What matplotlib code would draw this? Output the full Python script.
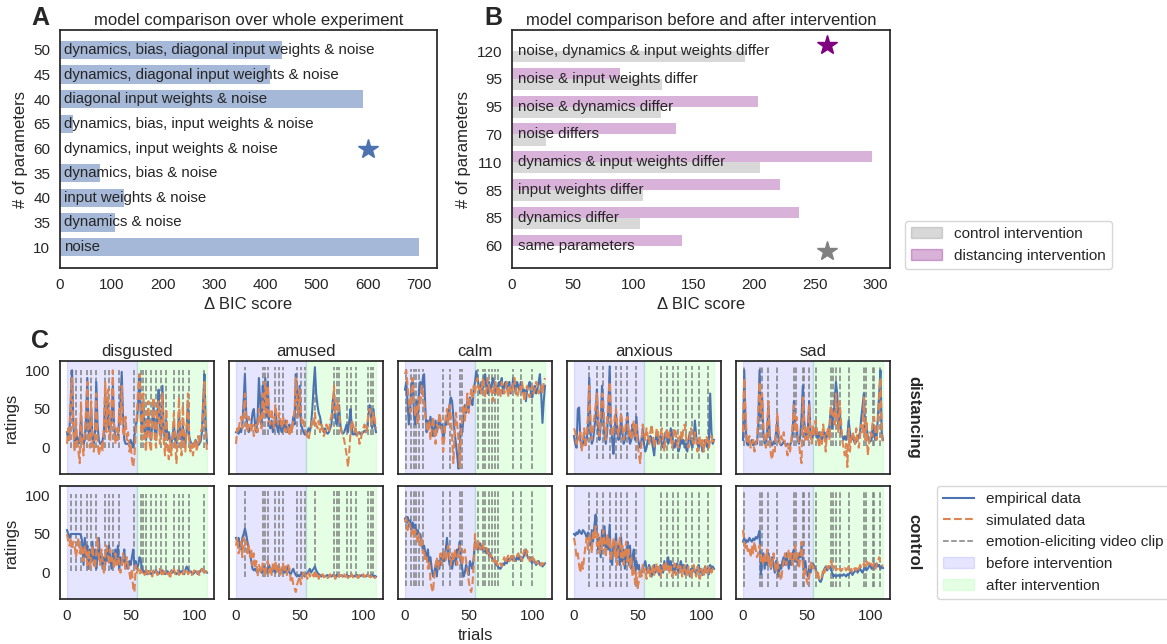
import numpy as np
import matplotlib.pyplot as plt
from matplotlib.lines import Line2D
from matplotlib.patches import Patch

# ---------------- panel A data ----------------
models_a = ["dynamics, bias, diagonal input weights & noise",
            "dynamics, diagonal input weights & noise",
            "diagonal input weights & noise",
            "dynamics, bias, input weights & noise",
            "dynamics, input weights & noise",
            "dynamics, bias & noise",
            "input weights & noise",
            "dynamics & noise",
            "noise"]
n_params_a = [50, 45, 40, 65, 60, 35, 40, 35, 10]
dbic_a = [432, 410, 590, 25, 0, 78, 125, 108, 700]
star_x_a = 600

# ---------------- panel B data ----------------
models_b = ["noise, dynamics & input weights differ",
            "noise & input weights differ",
            "noise & dynamics differ",
            "noise differs",
            "dynamics & input weights differ",
            "input weights differ",
            "dynamics differ",
            "same parameters"]
n_params_b = [120, 95, 95, 70, 110, 85, 85, 60]
dbic_control = [192, 124, 123, 28, 205, 108, 106, 0]
dbic_distancing = [0, 89, 203, 135, 297, 221, 237, 140]
star_x_b = 260

# ---------------- panel C data ----------------
emotions = ["disgusted", "amused", "calm", "anxious", "sad"]
groups = ["distancing", "control"]
before_span = (0, 55)
after_span = (55, 110)

clips_disgusted = [3, 7, 11, 16, 19, 23, 30, 33, 36, 41, 53, 58, 60, 62, 66, 70, 74, 78, 84, 88, 91, 96, 108]
clips_amused = [7, 21, 23, 25, 31, 34, 37, 48, 51, 54, 62, 77, 79, 81, 87, 90, 94, 104, 106, 108]
clips_calm = [1, 5, 7, 9, 11, 14, 30, 35, 43, 45, 57, 61, 63, 66, 68, 71, 73, 85, 91, 100]
clips_anxious = [12, 18, 23, 28, 33, 37, 42, 49, 68, 73, 78, 82, 88, 93, 98, 105]
clips_sad = [1, 13, 15, 20, 27, 40, 42, 47, 48, 52, 57, 69, 71, 73, 76, 83, 95, 97, 102, 103, 108]

clip_range_distancing = [(0, 100), (16, 104), (-27, 102), (-14, 105), (2, 105)]
clip_range_control = [(2, 102), (-6, 105), (-17, 105), (-19, 105), (-19, 106)]

# distancing group
disgusted_dist_emp = [20, 10, 25, 60, 100, 30, 5, 10, 15, 5,
                      8, 40, 15, 5, 10, 40, 90, 20, 10, 50,
                      15, 5, 20, 85, 30, 10, 5, 5, 10, 20,
                      70, 30, 60, 25, 20, 40, 80, 30, 15, 10,
                      15, 35, 60, 98, 40, 10, 5, 5, 5, 5,
                      10, 5, 0, 15, 30, 35, 60, 95, 40, 20,
                      60, 25, 10, 20, 45, 15, 10, 30, 55, 20,
                      10, 40, 75, 20, 15, 80, 20, 10, 35, 10,
                      20, 10, 5, 15, 30, 10, 5, 20, 45, 15,
                      10, 30, 10, 5, 20, 60, 15, 8, 5, 5,
                      5, 10, 5, 3, 5, 8, 20, 60, 95, 30, 5]
disgusted_dist_sim = [5, 25, 10, 70, 90, 20, -5, 40, 10, -5,
                      -20, 60, 5, -10, 20, 50, 85, 10, 0, 60,
                      5, -5, 15, 70, 10, -10, 0, 5, -5, 30,
                      85, 20, 75, 40, 10, 60, 100, 20, 5, 25,
                      10, 50, 30, 80, 20, 15, 40, 10, 20, -5,
                      5, -15, -25, -10, 20, 45, 80, 95, 30, 10,
                      70, 15, -5, 30, 60, 5, -5, 40, 65, 10,
                      0, 55, 60, 5, 25, 70, 10, -10, 50, 0,
                      -15, 10, -10, 20, 45, 5, -20, 15, 65, 10,
                      -10, 55, 15, -5, 30, 70, 10, -5, 5, -10,
                      5, 10, -5, 15, 5, 20, 25, 50, 85, 15, -5]
amused_dist_emp = [20, 22, 18, 25, 20, 30, 60, 95, 45, 25,
                   20, 25, 30, 45, 50, 30, 20, 40, 90, 60,
                   30, 80, 50, 90, 40, 85, 30, 25, 35, 20,
                   25, 50, 30, 20, 35, 25, 20, 30, 25, 35,
                   20, 25, 30, 20, 25, 40, 30, 95, 70, 40,
                   80, 30, 25, 20, 17, 17, 20, 25, 20, 30,
                   50, 80, 104, 70, 55, 45, 40, 30, 25, 20,
                   25, 20, 18, 20, 25, 30, 60, 70, 40, 30,
                   35, 55, 30, 20, 18, 20, 25, 30, 20, 35,
                   50, 25, 17, 18, 17, 17, 18, 20, 17, 18,
                   20, 22, 20, 25, 40, 55, 45, 25, 50, 30, 20]
amused_dist_sim = [5, 25, 20, 35, 40, 25, 45, 70, 30, 20,
                   40, 35, 20, 30, 15, 25, 30, 20, 50, 35,
                   25, 70, 40, 85, 45, 80, 35, 30, 50, 35,
                   25, 55, 40, 30, 45, 35, 25, 40, 30, 20,
                   35, 25, 15, 30, 20, 35, 50, 90, 60, 40,
                   75, 45, 30, 35, 25, 20, 15, 10, 20, 25,
                   35, 30, 45, 30, 25, 35, 20, 30, 25, 15,
                   20, 30, 25, 20, 35, 40, 55, 80, 45, 50,
                   60, 45, 30, 20, 15, 10, 0, -10, -25, -5,
                   20, 35, 30, 20, 25, 15, 20, 5, 10, 20,
                   25, 30, 20, 25, 45, 50, 40, 30, 45, 35, 25]
calm_dist_emp = [75, 85, 60, 30, 50, 80, 85, 45, 30, 60,
                 40, 75, 85, 70, 90, 95, 50, 20, 35, 25,
                 40, 30, 15, 25, 35, 20, 30, 40, 25, 30,
                 10, 20, 35, 30, 45, 55, 65, 60, 40, 20,
                 5, -10, -27, 0, 30, 20, 40, 55, 45, 60,
                 50, 65, 60, 55, 75, 85, 99, 90, 80, 70,
                 85, 75, 90, 95, 80, 70, 85, 75, 80, 90,
                 85, 70, 80, 75, 85, 80, 90, 70, 80, 85,
                 75, 80, 85, 70, 75, 90, 80, 70, 85, 80,
                 75, 85, 80, 70, 75, 60, 75, 80, 85, 70,
                 65, 75, 80, 70, 75, 85, 95, 70, 32, 60, 80]
calm_dist_sim = [95, 100, 80, 60, 45, 70, 90, 60, 40, 55,
                 30, 65, 55, 80, 70, 60, 40, 30, 20, 35,
                 10, 25, 40, 20, 5, 30, 25, 45, 35, 20,
                 -5, 15, 40, 50, 30, 55, 40, 15, -20, 20,
                 45, 30, 10, -25, 15, 40, 55, 35, 50, 70,
                 45, 60, 75, 65, 80, 70, 85, 90, 75, 80,
                 70, 90, 80, 65, 75, 90, 80, 70, 75, 60,
                 80, 85, 70, 80, 75, 65, 85, 80, 70, 75,
                 85, 65, 80, 75, 70, 80, 90, 75, 65, 70,
                 80, 75, 85, 70, 60, 75, 80, 70, 65, 75,
                 80, 70, 75, 85, 80, 70, 75, 80, 70, 85, 90]
anxious_dist_emp = [15, 5, 0, 50, 52, 10, 0, 5, 15, 5,
                    10, 30, 90, 20, 5, 10, 25, 40, 75, 20,
                    10, 30, 80, 40, 15, 5, 20, 50, 105, 30,
                    10, -8, 25, 45, 20, 10, 15, 40, 20, 5,
                    10, 25, 45, 15, 5, 10, 30, 20, 10, 40,
                    15, 5, 0, 10, 25, 5, -5, 0, 10, 5,
                    15, 10, 0, -10, 10, 20, 5, 10, 15, 5,
                    0, 10, 20, 15, 5, 10, 25, 15, 5, 0,
                    10, 5, -5, 0, 15, 5, 10, 0, 5, -5,
                    10, 20, 5, 0, 10, 35, 15, 5, 0, 10,
                    5, -5, 0, 10, 5, 0, 10, 70, 20, 5, 10]
anxious_dist_sim = [25, 20, 5, 15, 10, 20, -5, 10, 25, 0,
                    20, 40, 80, 30, 10, 25, 40, 55, 70, 35,
                    15, 45, 70, 60, 25, 10, 35, 60, 85, 40,
                    15, 20, 40, 50, 25, 15, 30, 45, 30, 10,
                    20, 35, 40, 15, 25, 10, 20, 35, 15, 30,
                    5, -10, -20, 5, 30, 20, 10, 25, 15, 5,
                    20, 30, 15, 0, 10, 25, 20, 5, 15, 25,
                    10, -5, 15, 25, 10, 20, 15, 0, 10, 25,
                    20, 5, 0, 15, 20, 10, 25, 30, 15, 5,
                    0, 15, 25, 10, 5, 20, 10, -5, 5, 15,
                    0, 10, -5, 5, 15, 10, 0, 10, 15, 5, 10]
sad_dist_emp = [10, 100, 30, 5, 3, 8, 5, 10, 3, 5,
                8, 5, 30, 100, 40, 65, 20, 5, 8, 20,
                55, 15, 5, 3, 8, 5, 20, 35, 10, 5,
                3, 5, 8, 5, 3, 5, 5, 3, 8, 20,
                60, 25, 30, 10, 5, 15, 40, 80, 35, 20,
                15, 25, 60, 20, 10, 15, 20, 25, 15, 10,
                20, 15, 10, 15, 20, 10, 15, 20, 30, 50,
                25, 35, 60, 85, 70, 30, 50, 20, 15, 10,
                15, 10, 15, 35, 20, 10, 15, 10, 5, 8,
                10, 15, 20, 40, 55, 70, 25, 30, 15, 10,
                8, 10, 30, 25, 10, 15, 40, 70, 100, 20, 10]
sad_dist_sim = [20, 90, 45, 10, 5, 15, 0, 5, 10, -5,
                5, 10, 50, 85, 45, 70, 25, 10, 0, 30,
                60, 10, -10, -15, 0, -5, 25, 45, 20, 5,
                15, 10, 20, 5, 0, -10, 5, -5, 10, 30,
                55, 20, 40, 15, 5, -10, -20, 65, 40, 10,
                25, 10, 55, 20, 5, 30, 15, 35, 25, 10,
                0, 20, 5, 30, 15, -5, 20, 25, 10, 55,
                40, 45, 30, 70, 40, 20, 60, 35, 10, 0,
                -10, 5, -25, 25, -5, 10, 20, 15, 5, 25,
                10, 0, 15, 30, 20, 65, 10, 35, -10, 5,
                20, 15, 35, 40, 20, 10, 30, 65, 90, 15, 5]

# control group
disgusted_ctrl_emp = [55, 50, 45, 50, 50, 50, 50, 50, 50, 50,
                      50, 48, 40, 10, 45, 20, 35, 5, 30, 15,
                      40, 10, 30, 5, 20, 45, 15, 25, 5, 20,
                      10, 30, 15, 35, 20, 5, 25, 10, 30, 15,
                      35, 5, 20, 10, 15, 30, 5, 10, 5, 15,
                      10, 20, 30, 10, 15, 5, 10, 20, 15, 5,
                      0, 2, 0, -2, 2, 0, -2, 0, 2, 0,
                      3, 0, -2, 2, 0, 3, 0, -2, 0, 2,
                      0, -2, 3, 0, 2, 0, -2, 0, 3, 0,
                      2, 0, -2, 3, 8, 5, 0, 2, 0, -2,
                      0, 2, 0, -2, 0, 3, 5, 2, 0, 2, 0]
disgusted_ctrl_sim = [50, 40, 35, 45, 30, 40, 35, 20, 30, 45,
                      25, 35, 30, 15, 35, 25, 10, 30, 5, 20,
                      35, 15, 5, 25, 45, 20, 10, 30, 15, 0,
                      20, 35, 25, 10, 30, 15, 20, 5, 25, 10,
                      20, 15, 0, 10, 25, 15, 5, 20, 10, 0,
                      -10, 5, -20, -25, 10, 0, 5, -2, 3, 0,
                      2, -3, 0, 5, -2, 2, 0, -5, 3, 0,
                      2, -3, 0, 5, 0, -5, 2, 0, 3, -2,
                      0, -8, 2, 0, 5, -2, 0, 3, -3, 0,
                      2, -2, 0, 3, 5, -2, 0, 2, -3, 0,
                      3, -2, 0, 2, -3, 0, 5, 3, -2, 2, 0]
amused_ctrl_emp = [45, 40, 45, 35, 30, 45, 50, 57, 50, 40,
                   30, 25, 15, 5, 3, 5, 2, 0, 3, 5,
                   0, 2, 8, 3, 0, 5, 10, 3, 0, 2,
                   5, 0, 3, 8, 2, 0, 3, 5, 0, 2,
                   8, 3, 0, -2, 2, 5, 0, -3, -5, -3,
                   -5, -2, 0, -3, -5, -3, 0, 2, 5, 0,
                   3, 5, 8, 3, 0, -2, -3, -5, -3, -4,
                   -5, -4, -3, -5, -4, -5, -3, -4, -5, -3,
                   -4, -5, -4, -3, -5, -4, -5, -3, -4, -5,
                   -4, -3, -5, -4, -5, -3, -4, -5, -4, -3,
                   -5, -4, -5, -3, -4, -5, -4, -3, -5, -4, -5]
amused_ctrl_sim = [35, 45, 25, 30, 40, 20, 45, 35, 40, 25,
                   35, 20, 30, 10, 25, 5, 15, -5, 10, 5,
                   0, 12, 5, -5, 10, 15, 0, 8, -3, 12,
                   5, 15, 0, 10, 5, -5, 10, 12, 0, 8,
                   -3, 10, 5, -10, -5, -15, -20, -25, -15, -10,
                   -5, -15, -5, 0, -5, -3, -8, 0, -5, -2,
                   0, -5, 3, -5, 0, -8, -3, -5, -2, -6,
                   -4, -3, -7, -5, -2, -6, -4, -3, -8, -5,
                   -2, -5, -4, -3, -6, -2, -5, -4, -7, -3,
                   -5, -2, -6, -4, -3, -5, -7, -3, -4, -6,
                   -2, -5, -4, -7, -3, -5, -6, -4, -3, -7, -5]
calm_ctrl_emp = [70, 65, 72, 60, 68, 55, 65, 58, 62, 50,
                 55, 45, 50, 40, 30, 35, 25, 20, 30, 10,
                 20, 5, -5, 0, 10, -5, 15, 5, 20, 10,
                 25, 15, 30, 45, 25, 10, 20, 5, 15, 25,
                 10, 30, 25, 40, 15, 5, -5, 0, 10, 5,
                 -3, 15, 10, 5, 20, 40, 35, 30, 35, 38,
                 30, 35, 28, 32, 25, 30, 22, 25, 20, 18,
                 15, 12, 10, 8, 6, 5, 8, 12, 10, 15,
                 12, 18, 15, 20, 17, 22, 18, 15, 20, 17,
                 22, 15, 18, 20, 25, 30, 22, 18, 20, 15,
                 12, 18, 14, 10, 12, 15, 10, 12, 8, 10, 12]
calm_ctrl_sim = [65, 70, 55, 65, 60, 50, 58, 45, 55, 48,
                 40, 50, 35, 45, 25, 30, 15, 20, 5, 15,
                 -10, -20, -25, -5, 10, 20, 5, 15, 25, 10,
                 20, 30, 15, 25, 35, 20, 10, 25, 15, 30,
                 20, 10, 25, 35, 20, 10, 25, 30, 15, 5,
                 -10, -20, -25, -15, 10, 50, 30, 35, 40, 30,
                 33, 38, 30, 28, 32, 25, 28, 20, 22, 15,
                 18, 10, 15, 8, 10, 12, 8, 15, 20, 12,
                 18, 22, 15, 18, 25, 20, 15, 18, 22, 25,
                 18, 20, 15, 25, 30, 22, 28, 20, 15, 18,
                 22, 15, 18, 12, 15, 10, 8, 12, 10, 15, 12]
anxious_ctrl_emp = [50, 48, 52, 50, 55, 52, 50, 55, 53, 50,
                    45, 52, 48, 35, 55, 40, 60, 75, 50, 30,
                    45, 20, 55, 35, 60, 25, 45, 30, 62, 15,
                    10, 40, 25, 50, 20, 35, 10, 45, 15, 30,
                    5, 25, 40, 10, 35, 5, 20, 30, 0, 15,
                    5, 10, -5, 0, 5, 10, 15, 5, 0, 10,
                    5, -5, 5, 10, 0, 8, 3, -3, 10, 5,
                    0, 15, 5, 10, 20, 8, 15, 3, 10, 0,
                    5, 12, 0, 8, 15, 5, 10, -2, 5, 10,
                    3, -5, 5, 0, 8, 2, -3, 5, 10, 0,
                    5, -3, 2, 8, 0, 5, -2, 10, 5, 8, 5]
anxious_ctrl_sim = [45, 35, 20, 25, 10, 0, 15, 5, 20, 35,
                    45, 30, 50, 40, 25, 55, 45, 60, 35, 50,
                    25, 45, 30, 55, 40, 20, 50, 35, 45, 15,
                    30, 45, 20, 40, 10, 30, 45, 20, 35, 10,
                    25, 40, 15, 30, 5, 20, -5, 10, -15, 0,
                    -20, -10, 5, -5, 10, 0, 5, -8, 3, 8,
                    -5, 0, 10, -3, 5, 12, 0, 8, -5, 5,
                    10, 0, 15, 5, 10, 0, 8, -5, 5, 12,
                    -3, 5, 10, 0, 8, -5, 3, 10, 0, -5,
                    8, 2, -8, 5, 10, 0, -5, 8, 3, -8,
                    5, 0, -5, 10, 3, -3, 5, 8, 0, 5, 2]
sad_ctrl_emp = [40, 45, 38, 42, 40, 45, 42, 40, 44, 42,
                46, 44, 48, 54, -2, 15, 25, 5, 20, 10,
                25, 15, 5, 20, 10, 0, 15, 5, -5, 10,
                5, 15, 20, 10, 25, 15, 5, 20, 10, 25,
                30, 15, 20, 10, 25, 20, 35, 15, 5, 15,
                0, -5, 5, 0, 10, 12, 8, 5, 0, -5,
                -10, -12, -8, 0, 5, 8, 3, 5, 8, 5,
                0, -5, -3, -5, -4, -3, -5, -3, -4, -2,
                -3, -5, -2, -3, 0, 2, -3, 0, 2, 5,
                0, 3, 5, 2, 0, 5, 8, 3, 5, 8,
                10, 5, 8, 6, 10, 12, 8, 10, 5, 8, 6]
sad_ctrl_sim = [55, 40, 30, 35, 25, 30, 20, 35, 25, 40,
                30, 20, 25, 35, 15, 20, 10, 25, 15, 30,
                10, 20, 5, 15, 25, 10, 0, 15, 5, -5,
                -10, 5, 15, 25, 10, 20, 30, 15, 25, 10,
                20, 35, 15, 25, 5, 20, 40, 10, -5, 5,
                -10, -15, -5, 10, 15, 5, 8, 3, -5, 0,
                -10, -8, -5, 5, 0, 10, 8, 5, 12, 15,
                10, 5, 8, 3, 5, 8, 5, 2, 5, 3,
                6, 3, 5, 8, 2, 5, 0, 4, 6, 3,
                8, 5, 10, 6, 8, 12, 8, 15, 10, 12,
                15, 10, 8, 12, 5, 10, 15, 20, 12, 10, 8]

clips = [clips_disgusted, clips_amused, clips_calm, clips_anxious, clips_sad]
empirical = {"distancing": [disgusted_dist_emp, amused_dist_emp, calm_dist_emp,
                            anxious_dist_emp, sad_dist_emp],
             "control": [disgusted_ctrl_emp, amused_ctrl_emp, calm_ctrl_emp,
                         anxious_ctrl_emp, sad_ctrl_emp]}
simulated = {"distancing": [disgusted_dist_sim, amused_dist_sim, calm_dist_sim,
                            anxious_dist_sim, sad_dist_sim],
             "control": [disgusted_ctrl_sim, amused_ctrl_sim, calm_ctrl_sim,
                         anxious_ctrl_sim, sad_ctrl_sim]}
clip_ranges = {"distancing": clip_range_distancing, "control": clip_range_control}

# ---------------- style ----------------
plt.rcParams['font.family'] = ['Liberation Sans', 'DejaVu Sans']
plt.rcParams.update({
    'text.color': '.15', 'axes.labelcolor': '.15',
    'xtick.color': '.15', 'ytick.color': '.15',
    'axes.edgecolor': '.15', 'axes.linewidth': 1.25,
    'xtick.major.size': 0, 'ytick.major.size': 0,
    'xtick.major.pad': 7, 'ytick.major.pad': 7,
    'xtick.labelsize': 11, 'ytick.labelsize': 11,
    'axes.labelsize': 12, 'axes.titlesize': 12,
    'axes.titlepad': 3.5, 'legend.fontsize': 11,
})

blue = '#4c72b0'
orange = '#dd8452'

W, H = 1167, 644
fig = plt.figure(figsize=(W / 100, H / 100), dpi=100)


def px_axes(x0, y0, x1, y1):
    return fig.add_axes([x0 / W, 1 - y1 / H, (x1 - x0) / W, (y1 - y0) / H])


# ---------------- panel A ----------------
ax_a = px_axes(60, 30, 437, 268)
ypos_a = np.arange(len(models_a))
ax_a.barh(ypos_a, dbic_a, height=0.75, color=blue, alpha=0.5)
for y, name in zip(ypos_a, models_a):
    ax_a.annotate(name, xy=(0, y), xytext=(3.2, 0), textcoords='offset points',
                  ha='left', va='center', fontsize=10.8)
best_a = int(np.argmin(dbic_a))
ax_a.plot([star_x_a], [best_a], marker='*', ms=15, color=blue, ls='none')
ax_a.set_xlim(0, max(dbic_a) * 1.05)
ax_a.set_ylim(len(models_a) - 0.15, -0.81)
ax_a.set_yticks(ypos_a)
ax_a.set_yticklabels(n_params_a)
ax_a.set_xticks(np.arange(0, 701, 100))
ax_a.set_ylabel("# of parameters")
ax_a.set_xlabel("Δ BIC score")
ax_a.set_title("model comparison over whole experiment")

# ---------------- panel B ----------------
ax_b = px_axes(512, 30, 890, 268)
ypos_b = np.arange(len(models_b))
ax_b.barh(ypos_b - 0.2, dbic_distancing, height=0.4, color='purple', alpha=0.3)
ax_b.barh(ypos_b + 0.2, dbic_control, height=0.4, color='grey', alpha=0.3)
for y, name in zip(ypos_b, models_b):
    ax_b.annotate(name, xy=(0, y), xytext=(4.5, 0), textcoords='offset points',
                  ha='left', va='center', fontsize=10.8)
best_dist = int(np.argmin(dbic_distancing))
best_ctrl = int(np.argmin(dbic_control))
ax_b.plot([star_x_b], [best_dist - 0.2], marker='*', ms=15, color='purple', ls='none')
ax_b.plot([star_x_b], [best_ctrl + 0.2], marker='*', ms=15, color='grey', ls='none')
ax_b.set_xlim(0, max(dbic_distancing) * 1.05)
ax_b.set_ylim(len(models_b) - 0.2, -0.755)
ax_b.set_yticks(ypos_b)
ax_b.set_yticklabels(n_params_b)
ax_b.set_xticks(np.arange(0, 301, 50))
ax_b.set_ylabel("# of parameters")
ax_b.set_xlabel("Δ BIC score")
ax_b.set_title("model comparison before and after intervention")

fig.legend(handles=[Patch(color='grey', alpha=0.3, label='control intervention'),
                    Patch(color='purple', alpha=0.3, label='distancing intervention')],
           loc='upper left', bbox_to_anchor=(905 / W, 1 - 221 / H), borderaxespad=0)

# ---------------- panel C ----------------
col_x = [60, 229, 398, 567, 736]
row_y = [361, 486]
for r, group in enumerate(groups):
    for c, emotion in enumerate(emotions):
        ax = px_axes(col_x[c], row_y[r], col_x[c] + 154, row_y[r] + 113)
        ax.axvspan(*before_span, color='blue', alpha=0.1)
        ax.axvspan(*after_span, color='lime', alpha=0.1)
        lo, hi = clip_ranges[group][c]
        ax.vlines(clips[c], lo, hi, colors='grey', linestyles='--', linewidth=1.1)
        emp = empirical[group][c]
        sim = simulated[group][c]
        ax.plot(np.arange(len(emp)), emp, color=blue, lw=1.5)
        ax.plot(np.arange(len(sim)), sim, color=orange, lw=1.5, ls='--')
        ax.set_xlim(-5.5, 115.5)
        ax.set_ylim(-34, 112)
        ax.set_xticks([0, 50, 100])
        ax.set_yticks([0, 50, 100])
        if r == 0:
            ax.set_title(emotion)
            ax.set_xticklabels([])
        if c > 0:
            ax.set_yticklabels([])
        else:
            ax.set_ylabel("ratings")
        if r == 1 and c == 2:
            ax.set_xlabel("trials")
        if c == len(emotions) - 1:
            ax.annotate(group, xy=(1, 0.5), xycoords='axes fraction',
                        xytext=(17.5, 0), textcoords='offset points',
                        rotation=270, ha='center', va='center',
                        fontsize=12, fontweight='bold')

fig.legend(handles=[Line2D([], [], color=blue, lw=1.5, label='empirical data'),
                    Line2D([], [], color=orange, lw=1.5, ls='--', label='simulated data'),
                    Line2D([], [], color='grey', lw=1.1, ls='--',
                           label='emotion-eliciting video clip'),
                    Patch(color='blue', alpha=0.1, label='before intervention'),
                    Patch(color='lime', alpha=0.1, label='after intervention')],
           loc='upper left', bbox_to_anchor=(937 / W, 1 - 486 / H), borderaxespad=0)

# panel letters
fig.text(31 / W, 1 - 25 / H, "A", fontsize=18, fontweight='bold', va='baseline')
fig.text(484 / W, 1 - 25 / H, "B", fontsize=18, fontweight='bold', va='baseline')
fig.text(31 / W, 1 - 348 / H, "C", fontsize=18, fontweight='bold', va='baseline')

fig.savefig("out.png", dpi=100)
